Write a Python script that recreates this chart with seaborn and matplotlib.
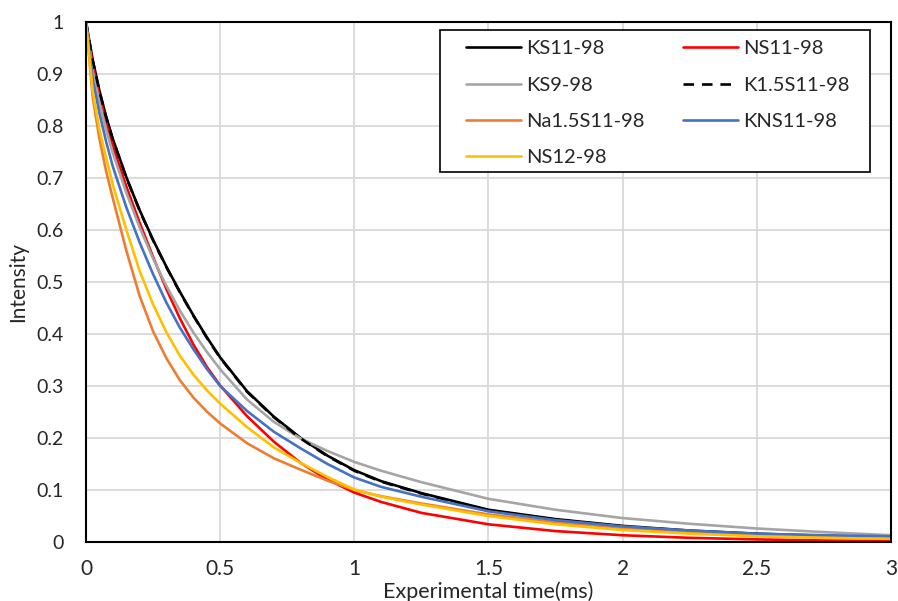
import pandas as pd
import matplotlib
matplotlib.use('Agg')
import matplotlib.pyplot as plt
from matplotlib.patches import Rectangle
from matplotlib.ticker import FormatStrFormatter, MultipleLocator
import seaborn as sns

# sampled times (ms)
time_ms = [0, 0.025, 0.05, 0.075, 0.1, 0.15, 0.2, 0.25, 0.3, 0.35, 0.4, 0.45, 0.5,
           0.6, 0.7, 0.8, 0.9, 1.0, 1.1, 1.25, 1.5, 1.75, 2.0, 2.25, 2.5, 2.75, 3.0]

# intensities
ks11 = [1, 0.927, 0.868, 0.818, 0.775, 0.702, 0.638, 0.581, 0.529, 0.481, 0.436, 0.394, 0.355,
        0.29, 0.241, 0.2, 0.166, 0.138, 0.117, 0.094, 0.062, 0.044, 0.031, 0.022, 0.016, 0.012, 0.009]
ns11 = [1, 0.918, 0.858, 0.806, 0.762, 0.684, 0.614, 0.548, 0.486, 0.43, 0.38, 0.337, 0.301,
        0.242, 0.193, 0.152, 0.12, 0.095, 0.077, 0.056, 0.034, 0.021, 0.013, 0.008, 0.005, 0.003, 0.002]
ks9 = [1, 0.905, 0.846, 0.793, 0.748, 0.672, 0.605, 0.545, 0.492, 0.445, 0.403, 0.366, 0.332,
       0.274, 0.231, 0.199, 0.175, 0.154, 0.137, 0.115, 0.083, 0.062, 0.046, 0.035, 0.026, 0.019, 0.013]
k15s11 = [1, 0.926, 0.867, 0.817, 0.774, 0.701, 0.637, 0.58, 0.528, 0.48, 0.435, 0.393, 0.354,
          0.289, 0.24, 0.199, 0.165, 0.137, 0.116, 0.093, 0.061, 0.043, 0.030, 0.021, 0.015, 0.011, 0.008]
na15s11 = [1, 0.855, 0.776, 0.713, 0.661, 0.561, 0.473, 0.405, 0.353, 0.311, 0.278, 0.251, 0.228,
           0.19, 0.161, 0.139, 0.118, 0.1, 0.088, 0.074, 0.053, 0.038, 0.027, 0.019, 0.013, 0.01, 0.008]
kns11 = [1, 0.889, 0.825, 0.77, 0.722, 0.644, 0.576, 0.515, 0.46, 0.412, 0.371, 0.333, 0.3,
         0.252, 0.212, 0.18, 0.15, 0.124, 0.106, 0.087, 0.059, 0.042, 0.03, 0.022, 0.016, 0.013, 0.011]
ns12 = [1, 0.867, 0.793, 0.739, 0.687, 0.601, 0.521, 0.457, 0.403, 0.358, 0.322, 0.292, 0.266,
        0.221, 0.182, 0.152, 0.125, 0.101, 0.087, 0.072, 0.05, 0.034, 0.023, 0.016, 0.011, 0.008, 0.006]

labels = ['KS11-98', 'NS11-98', 'KS9-98', 'K1.5S11-98', 'Na1.5S11-98', 'KNS11-98', 'NS12-98']
series = [ks11, ns11, ks9, k15s11, na15s11, kns11, ns12]
colors = ['#000000', '#FF0000', '#A5A5A5', '#000000', '#ED7D31', '#4472C4', '#FFC000']
dashes = ['-', '-', '-', (0, (4, 3)), '-', '-', '-']

sns.set_style('white')
plt.rcParams['font.family'] = ['Lato', 'DejaVu Sans']

fig = plt.figure(figsize=(8.98, 6.01), dpi=100)
ax = fig.add_axes([86 / 898, 1 - 542 / 601, 805 / 898, 520 / 601])

for lab, vals, col, ls in zip(labels, series, colors, dashes):
    sns.lineplot(x=time_ms, y=vals, ax=ax, color=col, linestyle=ls, linewidth=1.9, label=lab)

ax.set_xlim(0, 3)
ax.set_ylim(0, 1)
ax.xaxis.set_major_locator(MultipleLocator(0.5))
ax.yaxis.set_major_locator(MultipleLocator(0.1))
ax.xaxis.set_major_formatter(FormatStrFormatter('%g'))
ax.yaxis.set_major_formatter(FormatStrFormatter('%g'))
ax.grid(True, color='#d9d9d9', linewidth=1.3)
ax.set_axisbelow(True)
ax.tick_params(axis='both', length=0)
ax.tick_params(axis='y', pad=16, labelsize=14)
ax.tick_params(axis='x', pad=12, labelsize=15)
for sp in ax.spines.values():
    sp.set_color('black')
    sp.set_linewidth(1.5)

ax.set_xlabel('Experimental time(ms)', fontsize=15.5, labelpad=2)
ax.set_ylabel('Intensity', fontsize=15, labelpad=6)

# legend frame like the Excel one (wide side margins)
ax.add_patch(Rectangle((0.44, 0.7115), 0.534, 0.273, transform=ax.transAxes,
                       facecolor='white', edgecolor='black', linewidth=1.2, zorder=4))

# legend order row-major like the original: reorder for matplotlib's column fill
h, l = ax.get_legend_handles_labels()
order = [0, 2, 4, 6, 1, 3, 5]
leg = ax.legend([h[i] for i in order], [l[i] for i in order], ncol=2,
                loc='upper left', bbox_to_anchor=(0.459, 0.984), fontsize=14.5,
                frameon=False, handlelength=2.74, labelspacing=0.95, columnspacing=1.9,
                borderpad=0, handletextpad=0.25)
leg.set_zorder(5)

fig.savefig('out.png', dpi=100)
